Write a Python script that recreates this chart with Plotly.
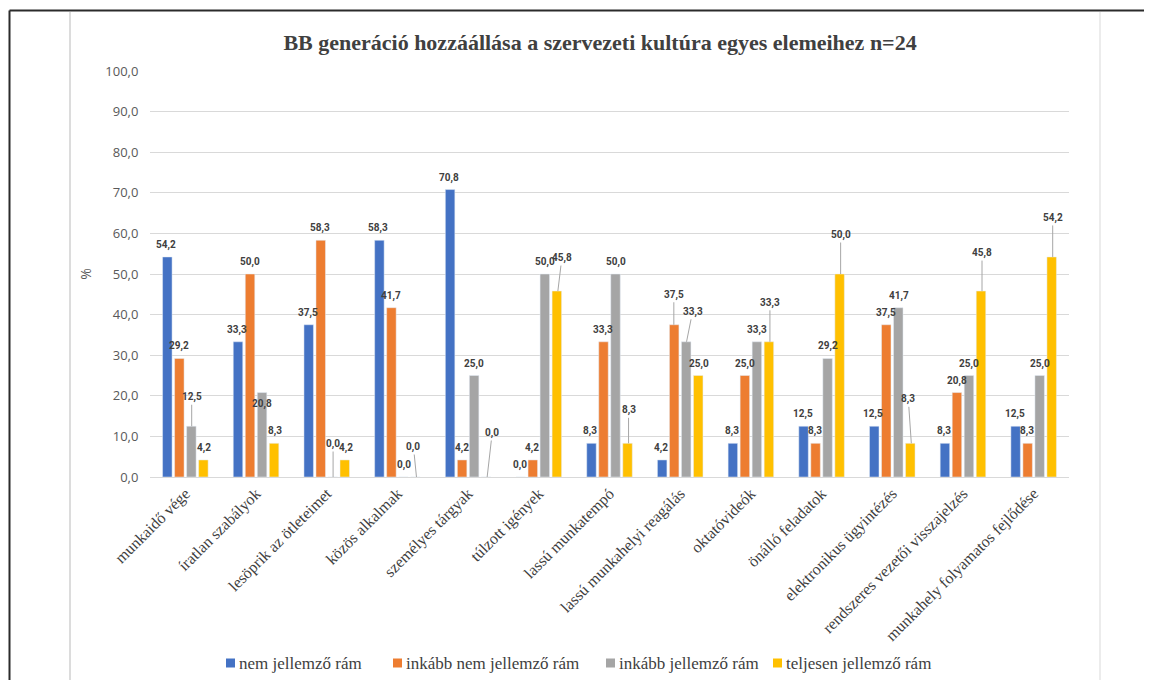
import plotly.graph_objects as go

# kategóriák (x tengely)
categories = ["munkaidő vége", "íratlan szabályok", "lesöprik az ötleteimet",
              "közös alkalmak", "személyes tárgyak", "túlzott igények",
              "lassú munkatempó", "lassú munkahelyi reagálás", "oktatóvideók",
              "önálló feladatok", "elektronikus ügyintézés",
              "rendszeres vezetői visszajelzés", "munkahely folyamatos fejlődése"]

nem_jellemzo = [54.2, 33.3, 37.5, 58.3, 70.8, 0.0, 8.3, 4.2, 8.3, 12.5, 12.5, 8.3, 12.5]
inkabb_nem = [29.2, 50.0, 58.3, 41.7, 4.2, 4.2, 33.3, 37.5, 25.0, 8.3, 37.5, 20.8, 8.3]
inkabb_igen = [12.5, 20.8, 0.0, 0.0, 25.0, 50.0, 50.0, 33.3, 33.3, 29.2, 41.7, 25.0, 25.0]
teljesen = [4.2, 8.3, 4.2, 0.0, 0.0, 45.8, 8.3, 25.0, 33.3, 50.0, 8.3, 45.8, 54.2]

series_names = ["nem jellemző rám", "inkább nem jellemző rám",
                "inkább jellemző rám", "teljesen jellemző rám"]
colors = ["#4472C4", "#ED7D31", "#A5A5A5", "#FFC000"]

# kézzel arrébb tett címkék (sorozat, kategória index) -> (dx, dy) pixelben, vezetővonallal
moved_labels = {
    (2, 0): (0, 29), (2, 2): (0, 33), (3, 3): (-3, 30), (3, 4): (5, 44),
    (3, 5): (4, 33), (3, 6): (0, 33), (1, 7): (0, 30), (2, 7): (6, 30),
    (3, 8): (0, 39), (3, 9): (0, 39), (3, 10): (-3, 44), (3, 11): (0, 38),
    (3, 12): (0, 39),
}
# vonal nélkül eltolt címke
shifted_labels = {(2, 1): -11}

# plot terület a képernyőn (px) -> paper koordináták
X0, X1, Y0, Y1 = 150, 1069, 71, 477
def px_x(sx):
    return (sx - X0) / (X1 - X0)
def px_y(sy):
    return (Y1 - sy) / (Y1 - Y0)

fig = go.Figure()
all_series = [nem_jellemzo, inkabb_nem, inkabb_igen, teljesen]
for name, vals, col in zip(series_names, all_series, colors):
    fig.add_trace(go.Bar(x=categories, y=vals, name=name, marker_color=col,
                         showlegend=False))

slot = 12.7  # egy oszlop helye a csoporton belül (px)
annotations = []
for s, vals in enumerate(all_series):
    for i, v in enumerate(vals):
        txt = "<b>" + f"{v:.1f}".replace(".", ",") + "</b>"
        base = dict(x=categories[i], y=v, text=txt, xshift=(s - 1.5) * slot,
                    font=dict(family="Roboto", size=10, color="#404040"))
        if (s, i) in moved_labels:
            dx, dy = moved_labels[(s, i)]
            base.update(showarrow=True, ax=dx, ay=-dy, arrowhead=0, arrowwidth=1,
                        arrowcolor="#a6a6a6", standoff=0)
        else:
            base.update(showarrow=False, xanchor="center", yanchor="middle",
                        yshift=shifted_labels.get((s, i), 12))
        annotations.append(base)

# saját jelmagyarázat (négyzet + szöveg)
legend_x = [226, 393, 606, 773]
legend_y = 663
shapes = []
for name, col, lx in zip(series_names, colors, legend_x):
    shapes.append(dict(type="rect", xref="paper", yref="paper",
                       x0=px_x(lx), x1=px_x(lx + 9), y0=px_y(legend_y + 4.5), y1=px_y(legend_y - 4.5),
                       fillcolor=col, line=dict(width=0)))
    annotations.append(dict(xref="paper", yref="paper", x=px_x(lx + 11), y=px_y(legend_y),
                            text=name, showarrow=False, xanchor="left", yanchor="middle",
                            font=dict(family="Liberation Serif", size=17, color="#404040")))

# keret (a kép széle és a halvány függőleges vonalak)
shapes += [
    dict(type="line", xref="paper", yref="paper", x0=px_x(9.5), x1=px_x(9.5), y0=-0.55, y1=px_y(10.5),
         line=dict(color="#2b2b2b", width=2)),
    dict(type="line", xref="paper", yref="paper", x0=px_x(9.5), x1=1.2, y0=px_y(10.5), y1=px_y(10.5),
         line=dict(color="#2b2b2b", width=2)),
    dict(type="line", xref="paper", yref="paper", x0=px_x(70), x1=px_x(70), y0=-0.55, y1=px_y(12),
         line=dict(color="#dcdcdc", width=2)),
    dict(type="line", xref="paper", yref="paper", x0=px_x(1100), x1=px_x(1100), y0=-0.55, y1=px_y(12),
         line=dict(color="#ececec", width=2)),
]

fig.update_layout(
    width=1144, height=672,
    margin=dict(l=142, r=83, t=63, b=203, autoexpand=False),
    separators=", ",
    plot_bgcolor="white", paper_bgcolor="white",
    barmode="group", bargap=0.32, bargroupgap=0.21,
    title=dict(text="<b>BB generáció hozzáállása a szervezeti kultúra egyes elemeihez n=24</b>",
               x=0.5175, xanchor="center", y=0.9494, yanchor="middle",
               font=dict(family="Liberation Serif", size=22, color="#404040")),
    yaxis=dict(range=[0, 100], dtick=10, tickformat=".1f",
               showgrid=True, gridcolor="#d9d9d9", gridwidth=1,
               zeroline=False, showline=False, automargin=False,
               ticks="outside", ticklen=8, tickcolor="rgba(0,0,0,0)",
               tickfont=dict(family="Open Sans", size=13, color="#595959"),
               title=dict(text="%", font=dict(family="Open Sans", size=14, color="#595959"),
                          standoff=10)),
    xaxis=dict(tickangle=-45, showline=True, linecolor="#d9d9d9", linewidth=1,
               automargin=False,
               tickfont=dict(family="Liberation Serif", size=16, color="#404040")),
    showlegend=False,
    shapes=shapes,
    annotations=annotations,
)

fig.write_html("out.html")
